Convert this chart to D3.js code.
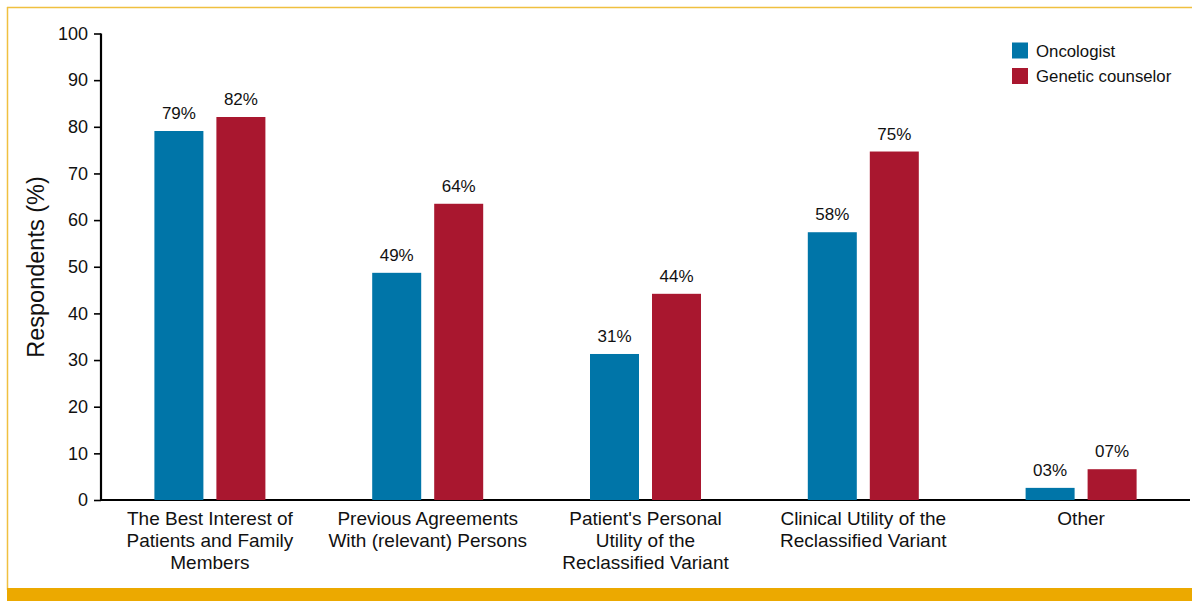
<!DOCTYPE html>
<html><head><meta charset="utf-8">
<script src="https://cdn.jsdelivr.net/npm/d3@7"></script>
<style>html,body{margin:0;padding:0;background:#fff;}svg{display:block;font-family:"Liberation Sans",Arial,sans-serif;}</style>
</head><body>
<svg id="c" width="1192" height="601"></svg>
<script>
const categories = [
  ["The Best Interest of","Patients and Family","Members"],
  ["Previous Agreements","With (relevant) Persons"],
  ["Patient's Personal","Utility of the","Reclassified Variant"],
  ["Clinical Utility of the","Reclassified Variant"],
  ["Other"]
];
const seriesNames = ["Oncologist","Genetic counselor"];
const oncologist = [79.1, 48.7, 31.3, 57.4, 2.6];
const counselor  = [82.1, 63.5, 44.2, 74.7, 6.6];
const oncologistLabels = ["79%","49%","31%","58%","03%"];
const counselorLabels  = ["82%","64%","44%","75%","07%"];
const yTicks = [0,10,20,30,40,50,60,70,80,90,100];
const colors = ["#0075A8","#A9172F"];

const svg = d3.select("#c");
// frame
svg.append("line").attr("x1",7).attr("x2",1192).attr("y1",7.5).attr("y2",7.5).attr("stroke","#F0C040").attr("stroke-width",1.5);
svg.append("line").attr("x1",7.5).attr("x2",7.5).attr("y1",7).attr("y2",590).attr("stroke","#F0C040").attr("stroke-width",1.5);
svg.append("rect").attr("x",7).attr("y",588).attr("width",1185).attr("height",13).attr("fill","#ECA900");

const x0 = d3.scaleBand().domain(d3.range(categories.length)).range([101,1190]).padding(0);
const y = d3.scaleLinear().domain([0,100]).range([500,33.5]);
const barW = 49, gap = 13;

// y axis
const yAxis = svg.append("g").attr("transform","translate(101,0)")
  .call(d3.axisLeft(y).tickValues(yTicks).tickSize(7).tickPadding(6));
yAxis.select(".domain").attr("stroke","#000").attr("stroke-width",2.2).attr("d","M0,33.5V500");
yAxis.selectAll(".tick line").attr("stroke","#000").attr("stroke-width",1.6);
yAxis.selectAll(".tick text").attr("font-size",18).attr("fill","#111").attr("font-family","Liberation Sans, Arial, sans-serif");

// x axis line
svg.append("line").attr("x1",100).attr("x2",1190).attr("y1",y(0)).attr("y2",y(0)).attr("stroke","#000").attr("stroke-width",2.2);

// y title
svg.append("text").attr("transform","translate(44,267) rotate(-90)").attr("text-anchor","middle")
  .attr("font-size",23.5).attr("fill","#111").text("Respondents (%)");

const series = [
  {vals: oncologist, labels: oncologistLabels, color: colors[0], off: -gap/2 - barW},
  {vals: counselor, labels: counselorLabels, color: colors[1], off: gap/2}
];
series.forEach(s => {
  categories.forEach((c,i) => {
    const cx = x0(i) + x0.bandwidth()/2;
    svg.append("rect").attr("x", cx + s.off).attr("y", y(s.vals[i]))
      .attr("width", barW).attr("height", y(0) - y(s.vals[i])).attr("fill", s.color);
    svg.append("text").attr("x", cx + s.off + barW/2).attr("y", y(s.vals[i]) - 12)
      .attr("text-anchor","middle").attr("font-size",17).attr("fill","#111").text(s.labels[i]);
  });
});

// x labels
categories.forEach((lines,i) => {
  const cx = x0(i) + x0.bandwidth()/2;
  const t = svg.append("text").attr("text-anchor","middle").attr("font-size",19).attr("fill","#111");
  lines.forEach((ln,j) => t.append("tspan").attr("x",cx).attr("y",524.5 + j*22).text(ln));
});

// legend
seriesNames.forEach((n,i) => {
  svg.append("rect").attr("x",1012).attr("y",42.5 + i*25.5).attr("width",16).attr("height",16).attr("fill",colors[i]);
  svg.append("text").attr("x",1036).attr("y",56.5 + i*25.5).attr("font-size",16.8).attr("fill","#111").text(n);
});
</script>
</body></html>
